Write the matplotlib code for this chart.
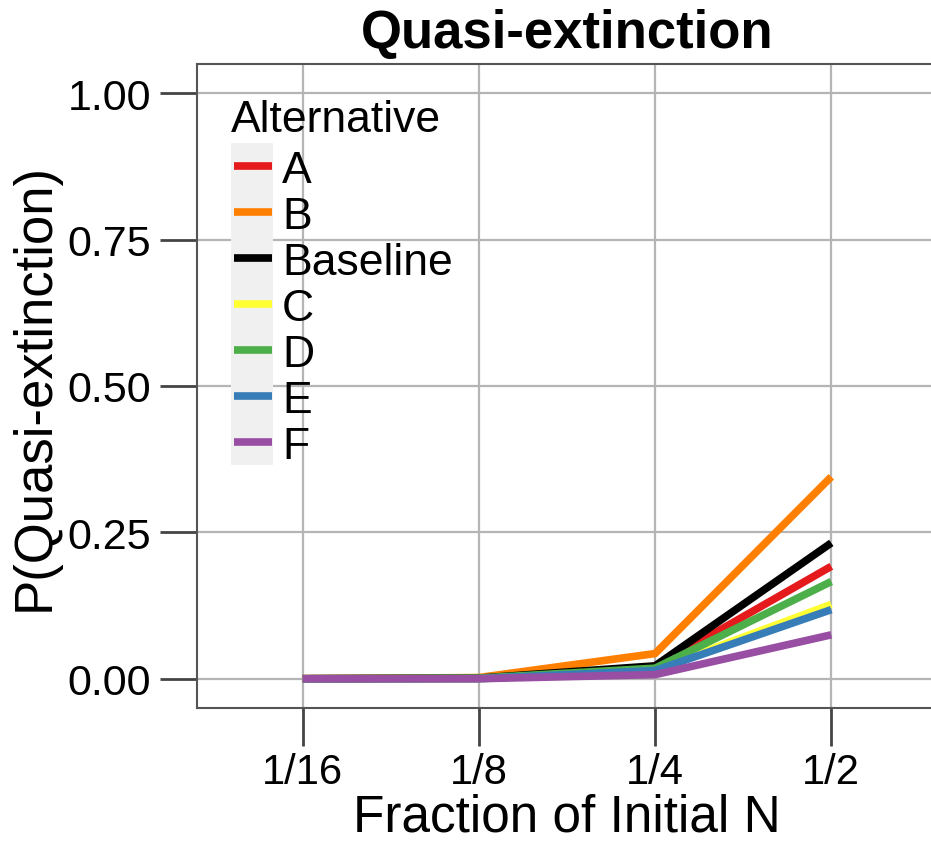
import matplotlib
matplotlib.use("Agg")
import matplotlib.pyplot as plt
from matplotlib.patches import Rectangle
from matplotlib.lines import Line2D

plt.rcParams['font.family'] = ['Liberation Sans', 'DejaVu Sans']

categories = ["1/16", "1/8", "1/4", "1/2"]
series_names = ["A", "B", "Baseline", "C", "D", "E", "F"]
A = [0.0, 0.001, 0.020, 0.192]
B = [0.0, 0.002, 0.043, 0.345]
Baseline = [0.0, 0.001, 0.022, 0.232]
C = [0.0, 0.000, 0.015, 0.127]
D = [0.0, 0.001, 0.018, 0.166]
E = [0.0, 0.000, 0.014, 0.118]
F = [0.0, 0.000, 0.007, 0.075]
values = [A, B, Baseline, C, D, E, F]
colors = ["#E41A1C", "#FF7F00", "#000000", "#FFFF33", "#4DAF4A", "#377EB8", "#984EA3"]
yticks = [0.0, 0.25, 0.5, 0.75, 1.0]
ytick_labels = ["0.00", "0.25", "0.50", "0.75", "1.00"]

W, H = 931, 845
fig = plt.figure(figsize=(W / 100, H / 100), dpi=100)
left, right, top, bottom = 197, 937, 65, 709
ax = fig.add_axes([left / W, 1 - bottom / H, (right - left) / W, (bottom - top) / H])

x = list(range(1, len(categories) + 1))
for name, vals, c in zip(series_names, values, colors):
    ax.plot(x, vals, color=c, lw=5.5, solid_capstyle='butt', solid_joinstyle='round', zorder=3)

ax.set_xlim(0.4, 4.6)
ax.set_ylim(-0.05, 1.05)
ax.set_xticks(x)
ax.set_xticklabels(categories)
ax.set_yticks(yticks)
ax.set_yticklabels(ytick_labels)
ax.grid(True, color="#B5B5B5", lw=1.6, zorder=0)
ax.set_axisbelow(True)
for s in ax.spines.values():
    s.set_color("#555555")
    s.set_linewidth(1.5)
ax.tick_params(axis='both', length=27, width=2, color="#444444", labelsize=31, pad=6)
ax.tick_params(axis='x', pad=5, labelsize=30)
ax.set_xlabel("Fraction of Initial N", fontsize=37, labelpad=0)
ax.set_ylabel("P(Quasi-extinction)", fontsize=38, labelpad=6)
ax.set_title("Quasi-extinction", fontsize=38, fontweight='bold', pad=12)

# legend drawn in pixel coordinates
def px(xp, yp):
    return xp / W, 1 - yp / H

fig.text(*px(231, 132), "Alternative", fontsize=32, ha='left', va='baseline')
y0 = 167
step = 46
for i, (name, c) in enumerate(zip(series_names, colors)):
    yc = y0 + i * step
    bx, by = px(231, yc + 23)
    fig.patches.append(Rectangle((bx, by), 42 / W, step / H, transform=fig.transFigure,
                                 facecolor="#F0F0F0", edgecolor="none", zorder=5))
    lx0, ly = px(234, yc)
    lx1, _ = px(272, yc)
    fig.lines.append(Line2D([lx0, lx1], [ly, ly], transform=fig.transFigure, color=c,
                            lw=5.5, solid_capstyle='butt', zorder=6))
    fig.text(*px(282, yc), name, fontsize=32, ha='left', va='center_baseline', zorder=7)

fig.savefig("out.png", dpi=100)
